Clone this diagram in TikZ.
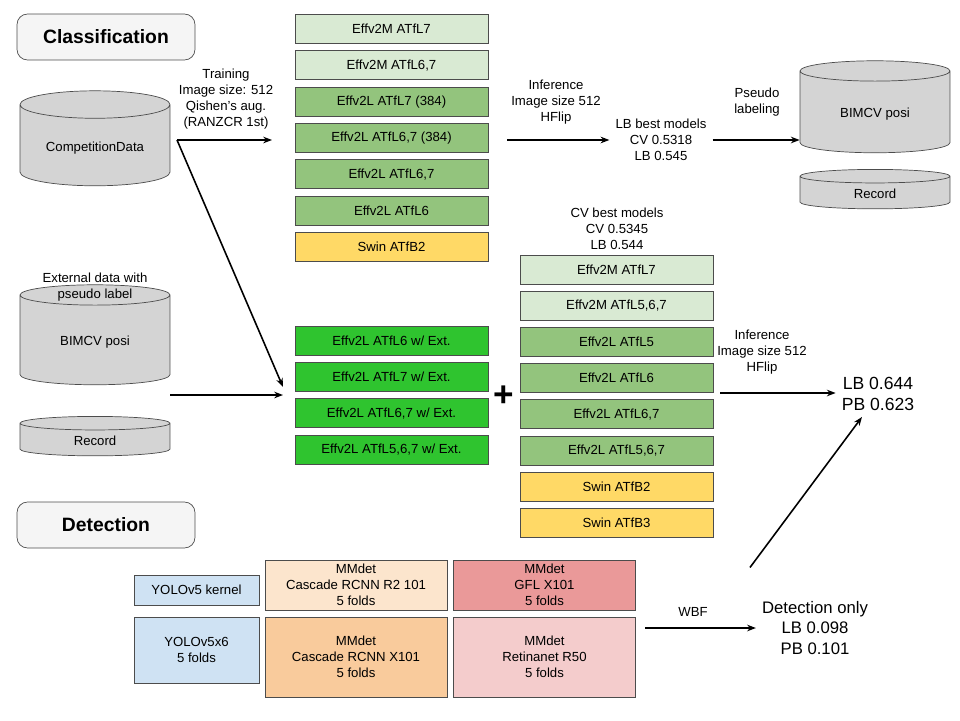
\documentclass[tikz,border=0pt]{standalone}
\usepackage{fontspec}
\setmainfont{Liberation Sans}
\usetikzlibrary{shapes.geometric,arrows.meta}
\definecolor{lgreen}{HTML}{D9EAD3}
\definecolor{mgreen}{HTML}{93C47D}
\definecolor{bgreen}{HTML}{2FC42F}
\definecolor{yell}{HTML}{FFD966}
\definecolor{lblue}{HTML}{CFE2F3}
\definecolor{lorange}{HTML}{FCE5CD}
\definecolor{morange}{HTML}{F9CB9C}
\definecolor{mred}{HTML}{EA9999}
\definecolor{lred}{HTML}{F4CCCC}
\tikzset{
  mbox/.style={draw=black!70, thin, minimum width=3.86cm, minimum height=0.58cm, font=\fontsize{7.5}{9}\selectfont, inner sep=1pt},
  dbox/.style={draw=black!70, thin, minimum width=3.64cm, align=center, font=\fontsize{7.5}{9}\selectfont, inner sep=1pt},
  title/.style={draw=black!70, rounded corners=6pt, fill=black!4, minimum width=3.56cm, minimum height=0.92cm, font=\fontsize{11}{13}\selectfont\bfseries},
  db/.style={cylinder, shape border rotate=90, draw=black!70, fill=black!17, aspect=0.25, minimum width=3cm, font=\fontsize{7.5}{9}\selectfont},
  note/.style={align=center, font=\fontsize{7.5}{9}\selectfont},
  arr/.style={-{Stealth[length=5pt]}, line width=0.9pt}
}
\begin{document}
\begin{tikzpicture}[x=0.02cm, y=-0.02cm]
  \useasboundingbox (0,0) rectangle (960,720);
  \node[title] (Cls) at (106,37) {Classification};
  \node[title] (Det) at (106,525) {Detection};

  \node[db, minimum height=1.9cm] (CompData) at (95,148) {Competition\\[-2pt]Data};
  \node[db, minimum height=2cm, align=center] (ExtBim) at (95,342) {BIMCV posi};
  \node[db, minimum height=0.76cm] (ExtRec) at (95,441) {Record};
  \node[db, minimum height=1.84cm] (PseBim) at (875,114) {BIMCV posi};
  \node[db, minimum height=0.72cm] (PseRec) at (875,194) {Record};
  \node[note] (ExtTxt) at (95,287) {External data with\\pseudo label};

  % first stage models
  \foreach \t/\c [count=\i] in {Effv2M ATfL7/lgreen, Effv2M ATfL6{,}7/lgreen,
      Effv2L ATfL7 (384)/mgreen, Effv2L ATfL6{,}7 (384)/mgreen, Effv2L ATfL6{,}7/mgreen,
      Effv2L ATfL6/mgreen, Swin ATfB2/yell}
    \node[mbox, fill=\c] (St\i) at (391.5,{29+36.3*(\i-1)}) {\t};

  % models with external data
  \foreach \t [count=\i] in {Effv2L ATfL6 w/ Ext., Effv2L ATfL7 w/ Ext.,
      Effv2L ATfL6{,}7 w/ Ext., Effv2L ATfL5{,}6{,}7 w/ Ext.}
    \node[mbox, fill=bgreen] (Ex\i) at (391.5,{340.5+36.3*(\i-1)}) {\t};

  % CV best models
  \foreach \t/\c [count=\i] in {Effv2M ATfL7/lgreen, Effv2M ATfL5{,}6{,}7/lgreen,
      Effv2L ATfL5/mgreen, Effv2L ATfL6/mgreen, Effv2L ATfL6{,}7/mgreen,
      Effv2L ATfL5{,}6{,}7/mgreen, Swin ATfB2/yell, Swin ATfB3/yell}
    \node[mbox, fill=\c] (Cv\i) at (616.5,{269.5+36.2*(\i-1)}) {\t};

  \node[note] (CvTxt) at (617,229) {CV best models\\CV 0.5345\\LB 0.544};
  \node[font=\fontsize{20}{20}\selectfont\bfseries] (Plus) at (504,396) {+};

  \coordinate (TrS) at (177,140);
  \coordinate (TrE) at (272,140);
  \node[note] (TrTxt) at (226,99) {Training\\Image size: 512\\Qishen's aug.\\(RANZCR 1st)};
  \draw[arr] (TrS) -- (TrE);
  \coordinate (ExE) at (283,387);
  \draw[arr] (TrS) -- (ExE);
  \coordinate (ExS) at (170,395);
  \coordinate (ExE2) at (283,395);
  \draw[arr] (ExS) -- (ExE2);

  \node[note] (InfTxt) at (556,102) {Inference\\Image size 512\\HFlip};
  \coordinate (InfS) at (507,140);
  \node[note] (LbBest) at (661,140) {LB best models\\CV 0.5318\\LB 0.545};
  \draw[arr] (InfS) -- (LbBest);
  \node[note] (PseTxt) at (757,102) {Pseudo\\labeling};
  \draw[arr] (LbBest) -- (PseBim.west |- LbBest);

  \node[note] (Inf2Txt) at (762,352) {Inference\\Image size 512\\HFlip};
  \node[align=center, font=\fontsize{10}{12}\selectfont] (Final) at (878,394) {LB 0.644\\PB 0.623};
  \coordinate (Inf2S) at (720,393);
  \draw[arr] (Inf2S) -- (Final.west |- Inf2S);

  % detection
  \node[dbox, fill=lblue, minimum width=2.5cm, minimum height=0.6cm] (Yk) at (196.5,590) {YOLOv5 kernel};
  \node[dbox, fill=lblue, minimum width=2.5cm, minimum height=1.32cm] (Yx) at (196.5,650) {YOLOv5x6\\5 folds};
  \node[dbox, fill=lorange, minimum height=1cm] (Cr2) at (356,585) {MMdet\\Cascade RCNN R2 101\\5 folds};
  \node[dbox, fill=morange, minimum height=1.6cm] (Cx) at (356,657) {MMdet\\Cascade RCNN X101\\5 folds};
  \node[dbox, fill=mred, minimum height=1cm] (Gfl) at (544.5,585) {MMdet\\GFL X101\\5 folds};
  \node[dbox, fill=lred, minimum height=1.6cm] (Ret) at (544.5,657) {MMdet\\Retinanet R50\\5 folds};
  \node[align=center, font=\fontsize{9.5}{11.5}\selectfont] (DetOnly) at (815,628) {Detection only\\LB 0.098\\PB 0.101};
  \node[note] (WbfTxt) at (693,612) {WBF};
  \coordinate (WbfS) at (645,628);
  \draw[arr] (WbfS) -- (DetOnly.west |- WbfS);
  \draw[arr] (DetOnly.north) ++(-65,-28) coordinate (DetUp) (DetUp) -- (Final.south west -| 862,403);
\end{tikzpicture}
\end{document}
